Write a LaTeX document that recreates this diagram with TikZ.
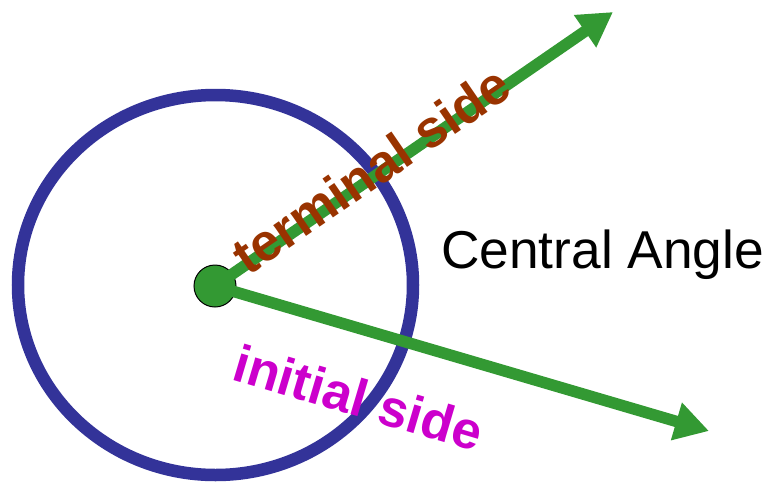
\documentclass[tikz,border=0pt]{standalone}
\usepackage{fontspec}
\setmainfont{Liberation Sans}
\usetikzlibrary{arrows.meta}
\definecolor{ringblue}{HTML}{333399}
\definecolor{sidegreen}{HTML}{339933}
\definecolor{termbrown}{HTML}{993300}
\definecolor{initmag}{HTML}{CC00CC}
\tikzset{
  ring/.style={draw=ringblue, line width=12.5pt},
  vertexdot/.style={circle, fill=sidegreen, draw=black, line width=1pt, minimum size=42pt, inner sep=0pt},
  sidearrow/.style={draw=sidegreen, line width=11.5pt, -{Triangle[length=34pt,width=37pt]}},
  sidelabel/.style={font=\fontsize{52.5}{62}\selectfont\bfseries, inner sep=0pt, anchor=base west},
  anglelabel/.style={font=\fontsize{53.3}{64}\selectfont, inner sep=0pt, anchor=base west, text=black}
}
\begin{document}
\begin{tikzpicture}[x=1pt,y=-1pt]
\useasboundingbox (0,0) rectangle (769,483);
\draw[ring] (215.5,285) ellipse [x radius=197.5, y radius=190];
\node[vertexdot] (O) at (215,286) {};
\coordinate (T) at (613,12);
\coordinate (I) at (709,431);
\draw[sidearrow] (O.center) -- (T);
\draw[sidearrow] (O.center) -- (I);
\node[sidelabel, text=termbrown, rotate=34.5] (term) at (248,277) {terminal side};
\node[sidelabel, text=initmag, rotate=-16.5] (init) at (230,379) {initial side};
\node[anglelabel] (cang) at (441,268) {Central Angle};
\end{tikzpicture}
\end{document}
